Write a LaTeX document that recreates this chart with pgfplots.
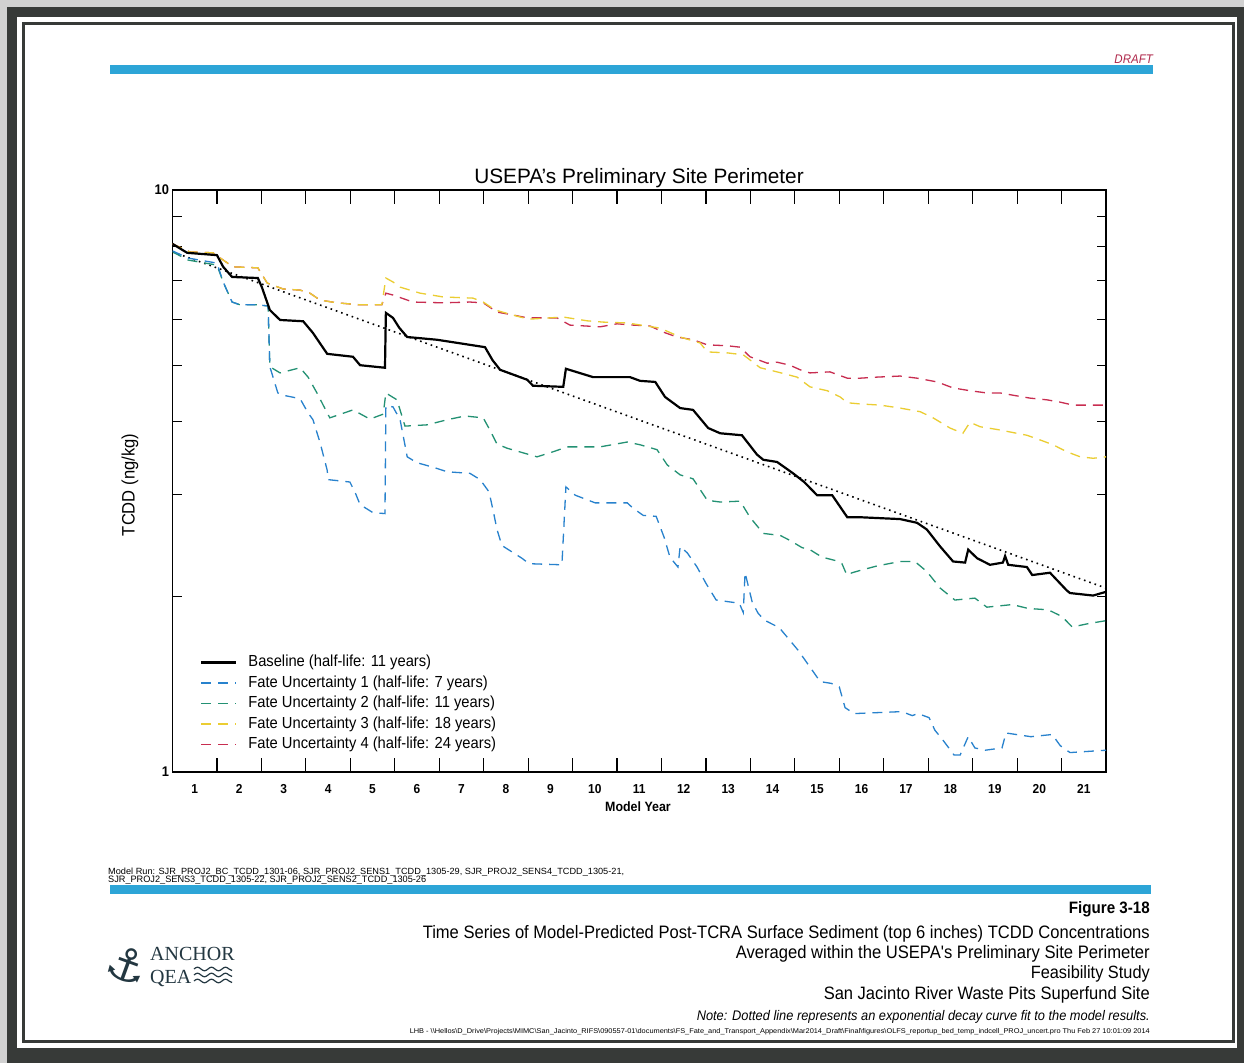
\documentclass[border=0pt]{standalone}
\usepackage{fontspec}
\setmainfont{Liberation Sans}
\newfontfamily\narrow[FakeStretch=0.92]{Liberation Sans}
\newfontfamily\logofont{Liberation Serif}
\newfontfamily\symfont{DejaVu Sans}
\usepackage{graphicx}
\usepackage{pgfplots}
\pgfplotsset{compat=1.18}
\definecolor{fu1}{RGB}{40,130,205}
\definecolor{fu2}{RGB}{35,145,115}
\definecolor{fu3}{RGB}{235,205,50}
\definecolor{fu4}{RGB}{200,45,80}
\definecolor{barblue}{RGB}{45,165,215}
\definecolor{draftred}{RGB}{175,40,75}
\definecolor{logo}{RGB}{35,55,65}
\definecolor{frame}{RGB}{55,58,56}
\begin{document}
\begin{tikzpicture}[x=1pt,y=1pt]
\useasboundingbox (0,0) rectangle (1244,-1063);
\fill[black!18] (0,0) rectangle (1244,-1063);
\fill[frame] (7,-7) rectangle (1244,-1063);
\fill[white] (17,-17) rectangle (1237,-1048);
\draw[frame, line width=3pt] (23.5,-23.5) rectangle (1233,-1041);
% top bar
\fill[barblue] (110,-65) rectangle (1153,-74);
\node[anchor=base east, inner sep=0, text=draftred, font=\narrow\itshape\fontsize{12.5}{14}\selectfont] at (1153,-63.5) {DRAFT};
% title
\node[anchor=base, inner sep=0, font=\fontsize{20.8}{24}\selectfont] at (639,-183) {USEPA's Preliminary Site Perimeter};
% y label
\node[rotate=90, inner sep=0, font=\narrow\fontsize{18}{20}\selectfont] at (130,-485) {TCDD (ng/kg)};
% x label
\node[inner sep=0, font=\narrow\bfseries\fontsize{13.5}{15}\selectfont] at (638,-807) {Model Year};

\begin{axis}[
  at={(172.5pt,-772pt)}, anchor=south west, scale only axis,
  width=933.5pt, height=582pt,
  xmin=0, xmax=21, ymode=log, ymin=1, ymax=10,
  axis line style={line width=1.3pt},
  xtick={1,...,21},
  xticklabels={1,2,3,4,5,6,7,8,9,10,11,12,13,14,15,16,17,18,19,20,21},
  xticklabel style={xshift=-22.23pt, yshift=-9pt, font=\narrow\bfseries\fontsize{13}{15}\selectfont},
  ytick={1,10}, yticklabels={1,10},
  yticklabel style={font=\narrow\bfseries\fontsize{14}{16}\selectfont},
  minor ytick={2,3,4,5,6,7,8,9},
  major tick length=14pt, minor tick length=9pt,
  tick style={black, line width=1.2pt},
  /pgf/number format/assume math mode=true,
  reverse legend,
  legend style={draw=none, fill=none, at={(0.0295,0.2027)}, anchor=north west,
    inner sep=0pt, font=\narrow\fontsize{16}{18}\selectfont, row sep=4pt,
    nodes={inner sep=1pt, text height=11.5pt, text depth=3pt},
    cells={anchor=west},
    /tikz/every odd column/.append style={column sep=10pt}},
  legend image code/.code={\draw[#1] (0pt,0pt) -- (35pt,0pt);},
]
% exponential fit (dotted)
\addplot[black, line width=1.6pt, dash pattern=on 1.6pt off 4pt, forget plot] coordinates {(0,7.83) (21,2.07)};
% Fate Uncertainty 4
\addplot[fu4, line width=1.3pt, dash pattern=on 10pt off 7pt] coordinates {
(0,8.08) (0.39,7.83) (0.91,7.80) (1.14,7.58) (1.36,7.38) (1.92,7.35) (2.13,6.92) (2.49,6.76) (2.87,6.73) (3.09,6.65) (3.32,6.47) (3.70,6.40) (4.22,6.35) (4.71,6.35) (4.80,6.65) (4.96,6.60) (5.41,6.42) (6.09,6.40) (6.69,6.42) (6.99,6.40) (7.30,6.17) (7.66,6.10) (7.98,6.03) (8.65,6.03) (8.94,5.86) (9.62,5.82) (10.00,5.89) (10.36,5.86) (10.74,5.84) (11.04,5.70) (11.35,5.59) (11.71,5.53) (12.03,5.42) (12.48,5.40) (12.77,5.37) (12.99,5.17) (13.38,5.04) (13.60,5.06) (13.89,5.00) (14.12,4.91) (14.34,4.85) (14.79,4.87) (15.18,4.75) (15.47,4.75) (15.85,4.77) (16.37,4.79) (16.75,4.75) (17.20,4.68) (17.56,4.57) (17.94,4.52) (18.32,4.48) (18.62,4.48) (18.91,4.44) (19.29,4.39) (19.67,4.36) (19.97,4.32) (20.26,4.27) (21,4.27)};
\addlegendentry{Fate Uncertainty 4 (half-life: 24 years)}
% Fate Uncertainty 3
\addplot[fu3, line width=1.3pt, dash pattern=on 10pt off 7pt] coordinates {
(0,8.08) (0.39,7.83) (0.91,7.80) (1.14,7.58) (1.36,7.38) (1.92,7.35) (2.13,6.92) (2.49,6.76) (2.87,6.73) (3.09,6.65) (3.32,6.47) (3.70,6.40) (4.22,6.35) (4.71,6.35) (4.80,7.06) (4.96,6.95) (5.12,6.81) (5.57,6.65) (6.09,6.55) (6.76,6.52) (6.99,6.42) (7.26,6.22) (7.82,6.05) (8.04,6.00) (8.79,6.05) (9.33,5.96) (9.69,5.93) (10.23,5.91) (10.97,5.79) (11.42,5.59) (11.87,5.46) (12.03,5.27) (12.48,5.25) (12.84,5.21) (13.22,4.95) (13.60,4.87) (14.05,4.77) (14.34,4.59) (14.73,4.52) (15.02,4.41) (15.18,4.31) (15.47,4.29) (15.92,4.27) (16.37,4.22) (16.82,4.16) (17.11,4.06) (17.49,3.90) (17.78,3.82) (17.94,3.99) (18.17,3.92) (18.62,3.87) (18.84,3.84) (19.22,3.79) (19.52,3.72) (19.81,3.65) (20.12,3.55) (20.42,3.48) (20.71,3.46) (21,3.48)};
\addlegendentry{Fate Uncertainty 3 (half-life: 18 years)}
% Fate Uncertainty 2
\addplot[fu2, line width=1.3pt, dash pattern=on 10pt off 7pt] coordinates {
(0,7.83) (0.35,7.58) (1.00,7.43) (1.14,6.95) (1.34,6.42) (1.52,6.35) (1.92,6.35) (2.15,6.32) (2.19,4.97) (2.42,4.85) (2.87,4.95) (3.05,4.77) (3.25,4.48) (3.48,4.14) (3.54,4.06) (4.06,4.19) (4.44,4.04) (4.74,4.12) (4.80,4.48) (5.05,4.36) (5.23,3.93) (5.73,3.95) (6.18,4.03) (6.58,4.09) (6.99,4.06) (7.14,3.87) (7.30,3.66) (7.53,3.60) (8.20,3.48) (8.56,3.55) (8.88,3.62) (9.62,3.62) (10.23,3.69) (10.52,3.65) (10.90,3.58) (11.13,3.37) (11.42,3.24) (11.71,3.19) (12.03,2.93) (12.32,2.91) (12.77,2.92) (12.99,2.74) (13.29,2.57) (13.67,2.55) (13.89,2.50) (14.16,2.43) (14.34,2.41) (14.61,2.34) (14.90,2.31) (15.06,2.28) (15.17,2.18) (15.29,2.20) (15.47,2.22) (15.85,2.26) (16.37,2.30) (16.70,2.30) (16.97,2.21) (17.27,2.07) (17.60,1.975) (18.05,1.99) (18.32,1.92) (18.89,1.94) (19.25,1.91) (19.70,1.90) (20.01,1.85) (20.24,1.775) (20.62,1.80) (21,1.82)};
\addlegendentry{Fate Uncertainty 2 (half-life: 11 years)}
% Fate Uncertainty 1
\addplot[fu1, line width=1.3pt, dash pattern=on 10pt off 7pt] coordinates {
(0,7.86) (0.35,7.64) (1.00,7.49) (1.14,6.95) (1.34,6.42) (1.52,6.35) (1.92,6.35) (2.15,6.32) (2.19,4.97) (2.37,4.48) (2.49,4.44) (2.87,4.38) (3.05,4.14) (3.16,4.03) (3.32,3.68) (3.48,3.30) (3.50,3.18) (3.99,3.15) (4.11,3.02) (4.22,2.88) (4.51,2.79) (4.78,2.78) (4.80,4.26) (4.96,4.24) (5.12,4.03) (5.28,3.48) (5.50,3.40) (5.86,3.34) (6.18,3.28) (6.69,3.26) (6.92,3.18) (7.12,3.03) (7.21,2.82) (7.30,2.61) (7.41,2.45) (7.86,2.33) (8.02,2.28) (8.76,2.27) (8.85,3.09) (9.06,2.99) (9.51,2.90) (10.23,2.90) (10.36,2.84) (10.59,2.76) (10.88,2.75) (11.06,2.53) (11.19,2.34) (11.37,2.25) (11.42,2.44) (11.58,2.38) (11.80,2.25) (12.00,2.11) (12.23,1.975) (12.75,1.95) (12.84,1.88) (12.88,2.20) (13.04,1.96) (13.17,1.876) (13.31,1.825) (13.65,1.77) (13.87,1.69) (14.07,1.62) (14.34,1.515) (14.57,1.43) (14.82,1.42) (15.00,1.40) (15.13,1.29) (15.33,1.26) (16.41,1.27) (16.64,1.25) (16.77,1.26) (17.02,1.24) (17.15,1.18) (17.33,1.135) (17.58,1.07) (17.72,1.07) (17.90,1.15) (18.05,1.10) (18.28,1.09) (18.66,1.10) (18.75,1.167) (19.31,1.15) (19.79,1.16) (19.97,1.11) (20.19,1.08) (21,1.09)};
\addlegendentry{Fate Uncertainty 1 (half-life: 7 years)}
% Baseline
\addplot[black, line width=2.2pt] coordinates {
(0,8.08) (0.33,7.80) (1.00,7.73) (1.14,7.38) (1.34,7.09) (1.92,7.06) (2.01,6.81) (2.19,6.22) (2.42,5.98) (2.94,5.95) (3.16,5.68) (3.48,5.23) (4.06,5.17) (4.22,5.00) (4.78,4.95) (4.80,6.15) (4.96,6.03) (5.10,5.80) (5.28,5.59) (5.95,5.53) (6.69,5.42) (7.03,5.37) (7.20,5.10) (7.37,4.91) (7.98,4.72) (8.11,4.61) (8.79,4.59) (8.85,4.93) (9.46,4.77) (10.29,4.77) (10.52,4.70) (10.86,4.68) (11.08,4.41) (11.42,4.22) (11.71,4.19) (12.05,3.90) (12.32,3.82) (12.81,3.79) (13.15,3.51) (13.29,3.44) (13.60,3.41) (13.96,3.26) (14.21,3.15) (14.50,2.99) (14.84,2.99) (15.18,2.74) (15.47,2.74) (16.37,2.72) (16.75,2.68) (16.97,2.61) (17.27,2.44) (17.56,2.30) (17.83,2.29) (17.90,2.41) (18.10,2.33) (18.39,2.27) (18.68,2.29) (18.73,2.35) (18.80,2.27) (19.22,2.25) (19.34,2.18) (19.74,2.20) (20.12,2.05) (20.19,2.03) (20.71,2.01) (21,2.04)};
\addlegendentry{Baseline (half-life: 11 years)}
\end{axis}

% model run text
\node[anchor=base west, inner sep=0] at (108,-874) {\resizebox{516pt}{6.5pt}{\narrow Model Run: SJR\_PROJ2\_BC\_TCDD\_1301-06, SJR\_PROJ2\_SENS1\_TCDD\_1305-29, SJR\_PROJ2\_SENS4\_TCDD\_1305-21,}};
\node[anchor=base west, inner sep=0] at (108,-882) {\resizebox{318pt}{6.5pt}{\narrow SJR\_PROJ2\_SENS3\_TCDD\_1305-22, SJR\_PROJ2\_SENS2\_TCDD\_1305-26}};
% bottom bar
\fill[barblue] (110,-885) rectangle (1151,-894);
% caption
\node[anchor=base east, inner sep=0, font=\narrow\bfseries\fontsize{16.5}{18}\selectfont] at (1150,-913) {Figure 3-18};
\node[anchor=base east, inner sep=0] at (1150,-938) {\resizebox{727pt}{!}{\narrow\fontsize{17}{19}\selectfont Time Series of Model-Predicted Post-TCRA Surface Sediment (top 6 inches) TCDD Concentrations}};
\node[anchor=base east, inner sep=0] at (1150,-958) {\resizebox{414pt}{!}{\narrow\fontsize{17}{19}\selectfont Averaged within the USEPA's Preliminary Site Perimeter}};
\node[anchor=base east, inner sep=0] at (1150,-978) {\resizebox{119pt}{!}{\narrow\fontsize{17}{19}\selectfont Feasibility Study}};
\node[anchor=base east, inner sep=0] at (1150,-999) {\resizebox{326pt}{!}{\narrow\fontsize{17}{19}\selectfont San Jacinto River Waste Pits Superfund Site}};
\node[anchor=base east, inner sep=0] at (1150,-1020) {\resizebox{453pt}{!}{\narrow\itshape\fontsize{12}{14}\selectfont Note: Dotted line represents an exponential decay curve fit to the model results.}};
\node[anchor=base east, inner sep=0] at (1150,-1033) {\resizebox{740pt}{5pt}{\narrow LHB - \textbackslash\textbackslash Hellos\textbackslash D\_Drive\textbackslash Projects\textbackslash MIMC\textbackslash San\_Jacinto\_RIFS\textbackslash 090557-01\textbackslash documents\textbackslash FS\_Fate\_and\_Transport\_Appendix\textbackslash Mar2014\_Draft\textbackslash Final\textbackslash figures\textbackslash OLFS\_reportup\_bed\_temp\_indcell\_PROJ\_uncert.pro Thu Feb 27 10:01:09 2014}};
% logo
\node[anchor=base west, inner sep=0, text=logo, font=\logofont\fontsize{20}{22}\selectfont] at (150,-960) {ANCHOR};
\node[anchor=base west, inner sep=0, text=logo, font=\logofont\fontsize{20}{22}\selectfont] at (150,-983) {QEA};
\node[inner sep=0, text=logo, rotate=-20, font=\symfont\fontsize{46}{50}\selectfont] at (128,-965) {⚓};
\foreach \yy in {969,975,981} {
  \draw[logo, line width=1.2pt] (194,-\yy) sin (197.5,-\yy+1.8) cos (201,-\yy) sin (204.5,-\yy-1.8) cos (208,-\yy) sin (211.5,-\yy+1.8) cos (215,-\yy) sin (218.5,-\yy-1.8) cos (222,-\yy) sin (225.5,-\yy+1.8) cos (229,-\yy) sin (232,-\yy-1.5);
}
\end{tikzpicture}
\end{document}
